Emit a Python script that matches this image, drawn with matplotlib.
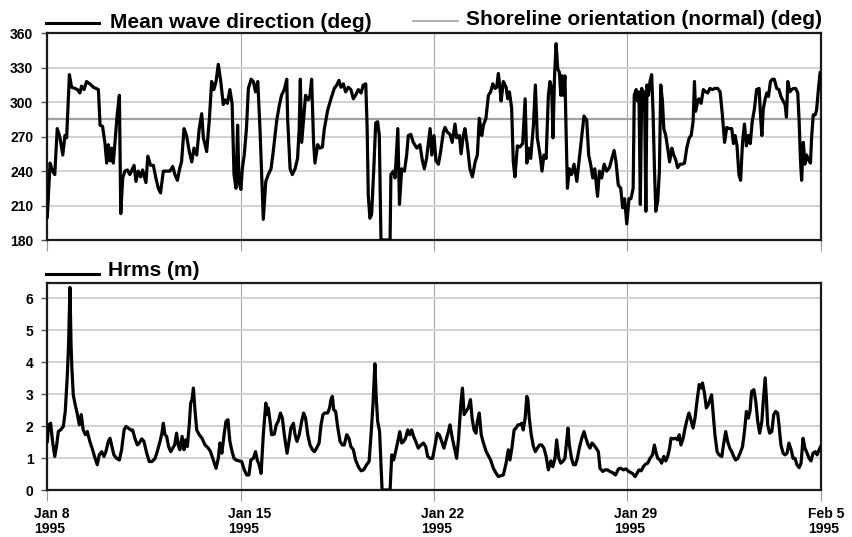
import matplotlib
matplotlib.use('Agg')
import matplotlib.pyplot as plt
from matplotlib.lines import Line2D
import matplotlib.transforms as mtransforms

# ---------------- data (days since Jan 8 1995) ----------------
dir_day = [
    0.00, 0.10, 0.19, 0.27, 0.36, 0.46, 0.56, 0.64, 0.70, 0.80,
    0.88, 1.00, 1.09, 1.18, 1.24, 1.33, 1.42, 1.54, 1.67, 1.85,
    1.91, 2.00, 2.09, 2.15, 2.21, 2.27, 2.33, 2.39, 2.49, 2.53,
    2.61, 2.66, 2.73, 2.81, 2.90, 2.99, 3.14, 3.21, 3.29, 3.38,
    3.45, 3.57, 3.64, 3.74, 3.84, 3.93, 4.02, 4.10, 4.20, 4.32,
    4.44, 4.54, 4.62, 4.71, 4.80, 4.86, 4.95, 5.04, 5.14, 5.23,
    5.31, 5.41, 5.50, 5.59, 5.65, 5.77, 5.87, 5.95, 6.03, 6.11,
    6.19, 6.28, 6.37, 6.44, 6.52, 6.61, 6.69, 6.76, 6.83, 6.89,
    6.94, 7.01, 7.06, 7.13, 7.21, 7.28, 7.38, 7.46, 7.54, 7.62,
    7.70, 7.82, 7.91, 8.00, 8.10, 8.18, 8.30, 8.39, 8.48, 8.58,
    8.67, 8.70, 8.79, 8.87, 8.97, 9.06, 9.12, 9.16, 9.21, 9.27,
    9.35, 9.45, 9.51, 9.57, 9.64, 9.69, 9.79, 9.87, 9.96, 10.03,
    10.15, 10.27, 10.39, 10.48, 10.56, 10.63, 10.72, 10.80, 10.90, 10.99,
    11.08, 11.16, 11.26, 11.36, 11.44, 11.53, 11.58, 11.62, 11.68, 11.74,
    11.82, 11.89, 11.96, 12.02, 12.08, 12.41, 12.44, 12.53, 12.59, 12.69,
    12.75, 12.83, 12.93, 13.01, 13.07, 13.16, 13.25, 13.38, 13.49, 13.58,
    13.65, 13.73, 13.86, 13.92, 14.00, 14.07, 14.16, 14.24, 14.34, 14.40,
    14.48, 14.58, 14.66, 14.76, 14.82, 14.92, 14.98, 15.06, 15.12, 15.21,
    15.30, 15.39, 15.49, 15.57, 15.64, 15.73, 15.79, 15.88, 15.97, 16.05,
    16.13, 16.21, 16.27, 16.33, 16.39, 16.43, 16.51, 16.61, 16.67, 16.73,
    16.81, 16.87, 16.93, 17.02, 17.11, 17.21, 17.30, 17.36, 17.43, 17.50,
    17.60, 17.67, 17.74, 17.84, 17.91, 17.98, 18.06, 18.14, 18.20, 18.26,
    18.31, 18.36, 18.42, 18.48, 18.54, 18.59, 18.63, 18.68, 18.74, 18.78,
    18.83, 18.90, 18.98, 19.07, 19.17, 19.26, 19.35, 19.43, 19.53, 19.60,
    19.67, 19.75, 19.82, 19.92, 19.99, 20.07, 20.16, 20.25, 20.35, 20.43,
    20.52, 20.59, 20.67, 20.76, 20.83, 20.90, 20.98, 21.06, 21.13, 21.21,
    21.25, 21.32, 21.37, 21.42, 21.47, 21.52, 21.57, 21.62, 21.67, 21.71,
    21.76, 21.82, 21.88, 21.93, 21.98, 22.03, 22.10, 22.16, 22.21, 22.27,
    22.32, 22.39, 22.46, 22.53, 22.61, 22.68, 22.75, 22.82, 22.91, 22.99,
    23.07, 23.15, 23.24, 23.31, 23.38, 23.43, 23.47, 23.55, 23.59, 23.67,
    23.75, 23.84, 23.91, 23.99, 24.08, 24.17, 24.27, 24.36, 24.44, 24.52,
    24.60, 24.68, 24.78, 24.84, 24.90, 24.97, 25.04, 25.10, 25.17, 25.24,
    25.31, 25.38, 25.45, 25.52, 25.60, 25.68, 25.77, 25.82, 25.87, 25.92,
    25.99, 26.05, 26.11, 26.18, 26.25, 26.32, 26.41, 26.49, 26.56, 26.64,
    26.71, 26.76, 26.81, 26.88, 26.95, 27.02, 27.09, 27.17, 27.22, 27.27,
    27.31, 27.37, 27.43, 27.49, 27.55, 27.63, 27.67, 27.73, 27.80, 27.85,
    27.92, 27.98, 28.00,
]
dir_deg = [
    200, 247, 240, 237, 277, 269, 254, 271, 269, 324,
    313, 312, 311, 308, 314, 311, 318, 316, 313, 311,
    280, 279, 264, 247, 263, 249, 260, 247, 277, 289,
    306, 203, 234, 240, 241, 237, 245, 231, 240, 235,
    241, 230, 253, 245, 245, 234, 225, 221, 240, 240,
    240, 244, 237, 232, 243, 248, 277, 271, 257, 248,
    260, 254, 277, 290, 269, 257, 286, 318, 311, 318,
    333, 318, 298, 302, 299, 311, 299, 237, 225, 280,
    230, 224, 242, 254, 277, 312, 320, 318, 309, 318,
    277, 198, 231, 237, 242, 257, 283, 296, 306, 311,
    320, 286, 242, 237, 242, 251, 277, 320, 265, 283,
    306, 302, 306, 320, 265, 247, 263, 260, 261, 277,
    293, 303, 312, 315, 319, 313, 316, 309, 313, 311,
    303, 306, 311, 308, 315, 316, 277, 219, 199, 202,
    242, 282, 283, 271, 180, 180, 237, 240, 234, 277,
    211, 242, 240, 254, 271, 272, 265, 260, 263, 249,
    242, 251, 277, 254, 271, 249, 246, 257, 274, 278,
    274, 272, 265, 281, 269, 271, 255, 271, 277, 262,
    242, 235, 248, 254, 286, 271, 280, 286, 306, 309,
    316, 312, 313, 325, 312, 301, 318, 313, 303, 309,
    295, 248, 235, 262, 261, 264, 303, 247, 260, 251,
    280, 315, 269, 254, 240, 254, 251, 306, 318, 312,
    269, 320, 351, 329, 326, 306, 323, 306, 323, 277,
    225, 242, 237, 246, 231, 251, 271, 288, 284, 254,
    246, 234, 242, 218, 240, 234, 246, 240, 243, 250,
    258, 248, 228, 225, 208, 216, 194, 216, 216, 225,
    306, 311, 301, 309, 211, 312, 303, 309, 205, 315,
    306, 318, 324, 292, 243, 205, 214, 240, 315, 301,
    277, 271, 260, 248, 260, 254, 250, 243, 246, 246,
    247, 260, 269, 271, 283, 318, 292, 301, 303, 299,
    311, 309, 308, 312, 311, 312, 312, 309, 289, 265,
    278, 277, 277, 264, 271, 262, 237, 232, 265, 281,
    262, 271, 264, 283, 294, 311, 312, 289, 271, 294,
    303, 308, 305, 318, 320, 320, 312, 311, 305, 301,
    298, 287, 318, 309, 311, 312, 312, 308, 283, 248,
    232, 265, 246, 254, 250, 247, 269, 289, 289, 293,
    312, 326, 326,
]
shoreline_deg = 285

hrms_day = [
    0.00, 0.05, 0.12, 0.19, 0.27, 0.34, 0.40, 0.48, 0.58, 0.65,
    0.72, 0.77, 0.82, 0.86, 0.89, 0.94, 1.01, 1.09, 1.16, 1.23,
    1.30, 1.38, 1.45, 1.54, 1.64, 1.73, 1.81, 1.88, 1.97, 2.05,
    2.12, 2.21, 2.27, 2.34, 2.41, 2.51, 2.61, 2.69, 2.78, 2.85,
    2.93, 3.02, 3.09, 3.17, 3.26, 3.33, 3.42, 3.50, 3.60, 3.69,
    3.79, 3.90, 3.98, 4.08, 4.15, 4.20, 4.26, 4.32, 4.39, 4.47,
    4.54, 4.61, 4.68, 4.74, 4.80, 4.88, 4.95, 5.01, 5.07, 5.14,
    5.19, 5.24, 5.29, 5.35, 5.41, 5.50, 5.60, 5.71, 5.83, 5.91,
    6.01, 6.11, 6.19, 6.25, 6.32, 6.40, 6.47, 6.54, 6.61, 6.69,
    6.76, 6.83, 6.94, 7.04, 7.13, 7.22, 7.30, 7.37, 7.46, 7.54,
    7.60, 7.67, 7.74, 7.82, 7.91, 7.95, 8.00, 8.05, 8.12, 8.22,
    8.29, 8.36, 8.44, 8.51, 8.58, 8.68, 8.75, 8.82, 8.91, 8.97,
    9.04, 9.12, 9.21, 9.28, 9.35, 9.43, 9.51, 9.60, 9.67, 9.75,
    9.84, 9.91, 9.98, 10.05, 10.15, 10.22, 10.27, 10.32, 10.37, 10.44,
    10.51, 10.60, 10.68, 10.75, 10.84, 10.92, 10.99, 11.08, 11.16, 11.26,
    11.36, 11.45, 11.56, 11.65, 11.72, 11.79, 11.86, 11.91, 11.96, 12.03,
    12.08, 12.12, 12.41, 12.47, 12.54, 12.61, 12.69, 12.76, 12.83, 12.90,
    12.97, 13.05, 13.12, 13.19, 13.26, 13.34, 13.43, 13.53, 13.62, 13.70,
    13.77, 13.86, 13.95, 14.04, 14.12, 14.19, 14.28, 14.36, 14.44, 14.52,
    14.58, 14.65, 14.73, 14.82, 14.89, 14.97, 15.03, 15.09, 15.16, 15.24,
    15.32, 15.38, 15.45, 15.52, 15.57, 15.64, 15.71, 15.79, 15.89, 15.98,
    16.05, 16.15, 16.25, 16.33, 16.42, 16.51, 16.61, 16.69, 16.75, 16.82,
    16.90, 16.97, 17.04, 17.11, 17.17, 17.23, 17.30, 17.36, 17.40, 17.45,
    17.52, 17.60, 17.67, 17.74, 17.82, 17.90, 17.98, 18.06, 18.14, 18.23,
    18.30, 18.38, 18.44, 18.52, 18.59, 18.66, 18.74, 18.80, 18.85, 18.90,
    18.98, 19.05, 19.12, 19.19, 19.26, 19.35, 19.43, 19.50, 19.58, 19.65,
    19.72, 19.79, 19.87, 19.95, 20.01, 20.11, 20.19, 20.28, 20.37, 20.47,
    20.57, 20.68, 20.76, 20.86, 20.95, 21.05, 21.18, 21.28, 21.35, 21.42,
    21.50, 21.58, 21.66, 21.74, 21.82, 21.91, 21.98, 22.03, 22.10, 22.18,
    22.24, 22.32, 22.39, 22.46, 22.53, 22.58, 22.67, 22.75, 22.82, 22.88,
    22.94, 23.02, 23.09, 23.16, 23.23, 23.30, 23.38, 23.45, 23.52, 23.60,
    23.67, 23.72, 23.79, 23.86, 23.93, 24.01, 24.05, 24.11, 24.17, 24.25,
    24.32, 24.42, 24.48, 24.56, 24.63, 24.71, 24.78, 24.85, 24.92, 25.00,
    25.08, 25.17, 25.24, 25.31, 25.38, 25.44, 25.50, 25.58, 25.65, 25.72,
    25.79, 25.87, 25.92, 25.99, 26.04, 26.08, 26.15, 26.23, 26.30, 26.37,
    26.44, 26.49, 26.56, 26.64, 26.71, 26.78, 26.85, 26.93, 27.00, 27.07,
    27.14, 27.22, 27.29, 27.36, 27.43, 27.51, 27.58, 27.65, 27.72, 27.80,
    27.87, 27.94, 28.00,
]
hrms_m = [
    1.52, 2.04, 2.09, 1.52, 1.05, 1.41, 1.83, 1.88, 1.99, 2.46,
    3.51, 4.55, 6.34, 4.55, 3.82, 2.98, 2.67, 2.36, 2.04, 2.36,
    1.88, 1.73, 1.83, 1.52, 1.26, 0.99, 0.79, 1.10, 1.20, 1.05,
    1.20, 1.52, 1.62, 1.36, 1.10, 0.99, 0.94, 1.26, 1.88, 1.99,
    1.94, 1.88, 1.88, 1.62, 1.41, 1.47, 1.60, 1.52, 1.15, 0.89,
    0.89, 0.99, 1.20, 1.52, 1.78, 2.09, 1.73, 1.68, 1.36, 1.20,
    1.31, 1.41, 1.78, 1.41, 1.26, 1.68, 1.26, 1.57, 1.36, 2.04,
    2.72, 2.83, 3.19, 2.46, 1.88, 1.73, 1.62, 1.41, 1.31, 1.20,
    0.94, 0.68, 0.99, 1.47, 1.15, 1.73, 2.15, 2.20, 1.52, 1.20,
    0.99, 0.94, 0.91, 0.89, 0.63, 0.47, 0.47, 0.94, 0.99, 1.20,
    0.94, 0.79, 0.52, 1.73, 2.72, 2.36, 2.57, 2.25, 1.73, 1.75,
    2.04, 2.15, 2.41, 2.25, 1.73, 1.15, 1.52, 1.94, 2.09, 1.73,
    1.52, 1.73, 2.15, 2.41, 2.25, 1.73, 1.41, 1.26, 1.20, 1.31,
    1.47, 2.04, 2.36, 2.41, 2.41, 2.57, 2.83, 2.93, 2.51, 2.46,
    1.99, 1.52, 1.41, 1.41, 1.73, 1.62, 1.36, 1.26, 0.94, 0.73,
    0.60, 0.63, 0.79, 0.89, 1.73, 2.67, 3.95, 2.88, 2.15, 1.83,
    0.79, 0.00, 0.00, 1.10, 0.94, 1.20, 1.52, 1.83, 1.47, 1.52,
    1.62, 1.88, 1.73, 1.88, 1.68, 1.52, 1.31, 1.41, 1.47, 1.36,
    1.05, 0.99, 0.99, 1.41, 1.78, 1.73, 1.52, 1.31, 1.57, 1.83,
    2.04, 1.68, 1.36, 0.99, 1.62, 2.67, 3.19, 2.36, 2.46, 2.57,
    2.83, 2.25, 1.88, 1.78, 2.15, 2.41, 1.73, 1.47, 1.20, 1.05,
    0.94, 0.68, 0.52, 0.42, 0.45, 0.47, 0.84, 1.26, 0.94, 1.31,
    1.88, 1.94, 2.04, 2.04, 2.09, 1.88, 2.25, 2.93, 2.83, 2.25,
    1.73, 1.36, 1.20, 1.31, 1.41, 1.41, 1.31, 1.05, 0.63, 0.91,
    0.73, 0.99, 1.57, 0.99, 0.84, 0.89, 0.99, 1.52, 1.94, 1.41,
    0.99, 0.79, 0.79, 0.99, 1.31, 1.62, 1.83, 1.62, 1.41, 1.31,
    1.47, 1.41, 1.31, 1.20, 0.68, 0.58, 0.63, 0.63, 0.58, 0.54,
    0.47, 0.66, 0.68, 0.63, 0.66, 0.58, 0.52, 0.42, 0.52, 0.63,
    0.60, 0.73, 0.81, 0.84, 0.99, 1.10, 1.41, 1.20, 0.99, 0.94,
    0.84, 1.05, 0.91, 1.05, 1.31, 1.62, 1.60, 1.62, 1.57, 1.73,
    1.41, 1.62, 1.94, 2.20, 2.41, 2.20, 1.94, 2.25, 2.77, 3.30,
    3.19, 3.35, 3.04, 2.57, 2.67, 2.88, 2.98, 2.36, 1.73, 1.20,
    1.10, 1.05, 1.41, 1.83, 1.52, 1.31, 1.20, 1.05, 0.94, 0.99,
    1.15, 1.36, 1.83, 2.46, 2.25, 2.46, 3.09, 3.14, 2.77, 2.15,
    1.78, 2.15, 2.77, 3.51, 2.77, 2.04, 1.78, 1.83, 2.36, 2.46,
    2.41, 2.04, 1.41, 1.15, 1.10, 1.15, 1.47, 1.26, 0.99, 0.99,
    0.79, 0.70, 0.84, 1.62, 1.31, 1.15, 0.99, 0.91, 1.15, 1.20,
    1.10, 1.26, 1.36,
]

tick_days = [0, 7, 14, 21, 28]
tick_labels = ["Jan 8\n1995", "Jan 15\n1995", "Jan 22\n1995", "Jan 29\n1995", "Feb 5\n1995"]
dir_ticks = [180, 210, 240, 270, 300, 330, 360]
hrms_ticks = [0, 1, 2, 3, 4, 5, 6]

# ---------------- figure ----------------
plt.rcParams['font.family'] = ['Liberation Sans', 'DejaVu Sans']
plt.rcParams['font.weight'] = 'bold'

W, H = 852, 537
fig = plt.figure(figsize=(W / 100, H / 100), dpi=100)
left, right = 47.3 / W, 820.7 / W
ax1 = fig.add_axes([left, 1 - 240 / H, right - left, (240 - 33.3) / H])
ax2 = fig.add_axes([left, 1 - 490 / H, right - left, (490 - 283.3) / H])

for ax in (ax1, ax2):
    ax.set_xlim(0, 28)
    ax.set_xticks(tick_days)
    ax.yaxis.grid(True, color='#cfcfcf', lw=1.3)
    ax.xaxis.grid(True, color='#a8a8a8', lw=0.8)
    ax.set_axisbelow(True)
    for s in ax.spines.values():
        s.set_linewidth(1.6)
        s.set_color('#1a1a1a')
    ax.tick_params(axis='y', direction='out', length=4, width=1.0,
                   color='#555555', labelsize=10, pad=6)
    ax.tick_params(axis='x', direction='out', length=8, width=0.8,
                   color='#999999', labelsize=10, pad=4)

# top panel
ax1.set_ylim(180, 360)
ax1.set_yticks(dir_ticks)
ax1.tick_params(axis='x', labelbottom=False)
ax1.axhline(shoreline_deg, color='#a0a0a0', lw=1.6, zorder=2)
ax1.plot(dir_day, dir_deg, color='black', lw=2.3, zorder=3)

# bottom panel
ax2.set_ylim(0, 6.47)
ax2.set_yticks(hrms_ticks)
ax2.plot(hrms_day, hrms_m, color='black', lw=2.3, zorder=3)
ax2.set_xticklabels(tick_labels, ha='left', linespacing=1.15)
offset = mtransforms.ScaledTranslation(-13 / 100, 0, fig.dpi_scale_trans)
for lab in ax2.get_xticklabels():
    lab.set_transform(lab.get_transform() + offset)

for ax in (ax1, ax2):
    for lab in ax.get_yticklabels() + ax.get_xticklabels():
        lab.set_fontweight('bold')

# legend-style headers
def fx(px):
    return px / W

def fy(py):
    return 1 - py / H

fig.add_artist(Line2D([fx(46), fx(99)], [fy(23), fy(23)], color='black', lw=2.2))
fig.text(fx(110), fy(27.5), "Mean wave direction (deg)", fontsize=15,
         fontweight='bold', va='baseline', ha='left')
fig.add_artist(Line2D([fx(413), fx(458)], [fy(20.5), fy(20.5)], color='#a8a8a8', lw=1.3))
fig.text(fx(466), fy(25), "Shoreline orientation (normal) (deg)", fontsize=15,
         fontweight='bold', va='baseline', ha='left')
fig.add_artist(Line2D([fx(46), fx(99)], [fy(273.5), fy(273.5)], color='black', lw=2.2))
fig.text(fx(108), fy(276), "Hrms (m)", fontsize=15,
         fontweight='bold', va='baseline', ha='left')

fig.savefig('out.png', dpi=100)
